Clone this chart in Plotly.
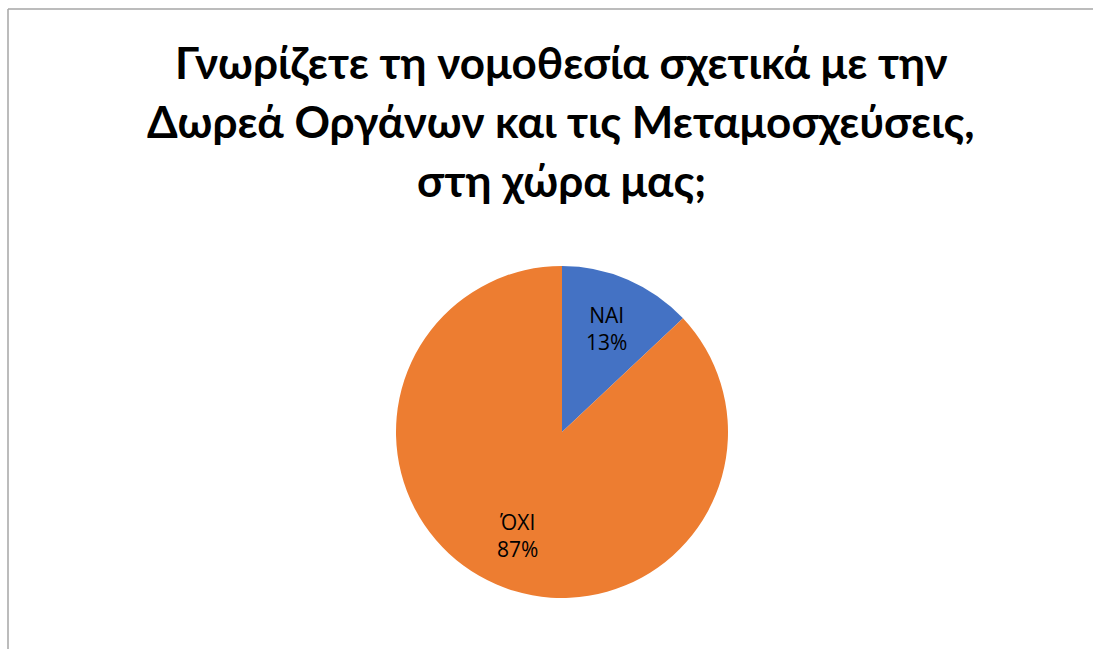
import math
import plotly.graph_objects as go

# Survey answers and their shares (%)
answers = ["ΝΑΙ", "ΌΧΙ"]
shares = [13, 87]
slice_colors = ["#4472C4", "#ED7D31"]

title_lines = [
    "Γνωρίζετε τη νομοθεσία σχετικά με την",
    "Δωρεά Οργάνων και τις Μεταμοσχεύσεις,",
    "στη χώρα μας;",
]

W, H = 1101, 649
cx, cy, r = 562, 432, 166

fig = go.Figure(
    go.Pie(
        labels=answers,
        values=shares,
        marker=dict(colors=slice_colors, line=dict(width=0)),
        sort=False,
        direction="clockwise",
        rotation=0,
        textinfo="none",
        showlegend=False,
        hoverinfo="label+percent",
        domain=dict(
            x=[(cx - r) / W, (cx + r) / W],
            y=[1 - (cy + r) / H, 1 - (cy - r) / H],
        ),
    )
)

# Data labels placed at each slice's mid-angle, inside the pie
total = sum(shares)
cum = 0
for lab, val in zip(answers, shares):
    mid = (cum + val / 2) / total * 2 * math.pi
    cum += val
    px = cx + 0.68 * r * math.sin(mid)
    py = cy - 0.68 * r * math.cos(mid)
    fig.add_annotation(
        text=f"{lab}<br>{round(val / total * 100)}%",
        x=px / W, y=1 - py / H,
        xref="paper", yref="paper",
        xanchor="center", yanchor="middle",
        showarrow=False,
        font=dict(family="Open Sans", size=21, color="#000000"),
    )

# Title lines
for i, line in enumerate(title_lines):
    fig.add_annotation(
        text=f"<b>{line}</b>",
        x=561 / W, y=1 - (62 + 59 * i) / H,
        xref="paper", yref="paper",
        xanchor="center", yanchor="middle",
        showarrow=False,
        font=dict(family="Lato", size=44, color="#000000"),
    )

# Chart frame edges
frame = dict(color="#A6A6A6", width=1.5)
fig.add_shape(type="line", xref="paper", yref="paper",
              x0=8 / W, x1=1093 / W, y0=1 - 9 / H, y1=1 - 9 / H, line=frame)
fig.add_shape(type="line", xref="paper", yref="paper",
              x0=8 / W, x1=8 / W, y0=1 - 9 / H, y1=0, line=frame)

fig.update_layout(
    width=W, height=H,
    margin=dict(l=0, r=0, t=0, b=0),
    paper_bgcolor="#FFFFFF",
    plot_bgcolor="#FFFFFF",
)

fig.write_html("out.html")
